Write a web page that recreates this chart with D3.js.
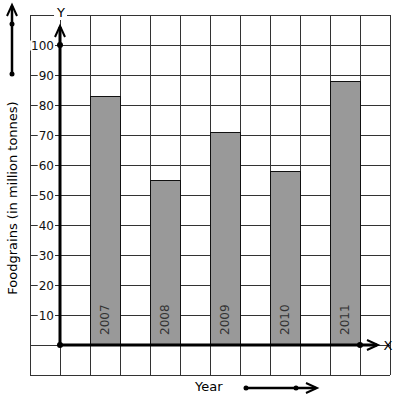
<!DOCTYPE html>
<html>
<head>
<meta charset="utf-8">
<script src="https://cdn.jsdelivr.net/npm/d3@7"></script>
<style>
  body { margin: 0; background: #fff; }
  text { font-family: "DejaVu Sans", sans-serif; }
</style>
</head>
<body>
<div id="cnv"></div>
<script>
var years = ["2007", "2008", "2009", "2010", "2011"];
var foodgrains = [83, 55, 71, 58, 88];
var yTicks = [10, 20, 30, 40, 50, 60, 70, 80, 90, 100];

var width = 397, height = 401;

var svg = d3.select("#cnv").append("svg")
  .attr("width", width)
  .attr("height", height);

// grid units: x from -1 to 11, y from -10 to 110
var xScale = d3.scaleLinear().domain([-1, 11]).range([30, 390]);
var yScale = d3.scaleLinear().domain([-10, 110]).range([375, 15]);

var grid = svg.append("g").attr("class", "grid");
d3.range(-1, 12).forEach(function(i) {
  grid.append("line")
    .attr("x1", xScale(i)).attr("x2", xScale(i))
    .attr("y1", yScale(-10)).attr("y2", yScale(110))
    .attr("stroke", "#333").attr("stroke-width", 1)
    .attr("shape-rendering", "crispEdges");
});
d3.range(-10, 111, 10).forEach(function(v) {
  grid.append("line")
    .attr("x1", xScale(-1)).attr("x2", xScale(11))
    .attr("y1", yScale(v)).attr("y2", yScale(v))
    .attr("stroke", "#333").attr("stroke-width", 1)
    .attr("shape-rendering", "crispEdges");
});

// bars
svg.selectAll("rect.bar")
  .data(foodgrains)
  .enter().append("rect")
  .attr("class", "bar")
  .attr("x", function(d, i) { return xScale(i * 2 + 1); })
  .attr("width", function(d, i) { return xScale(i * 2 + 2) - xScale(i * 2 + 1); })
  .attr("y", function(d) { return yScale(d); })
  .attr("height", function(d) { return yScale(0) - yScale(d); })
  .attr("fill", "#999")
  .attr("stroke", "#111")
  .attr("stroke-width", 1)
  .attr("shape-rendering", "crispEdges");

// year labels inside bars
svg.selectAll("text.year")
  .data(years)
  .enter().append("text")
  .attr("class", "year")
  .attr("transform", function(d, i) {
    return "translate(" + (xScale(i * 2 + 1.5) + 4) + "," + (yScale(0) - 10) + ") rotate(-90)";
  })
  .attr("font-size", "12px")
  .attr("fill", "#333")
  .text(function(d) { return d; });

// y tick labels with white background
var tickG = svg.append("g");
yTicks.forEach(function(v) {
  var t = tickG.append("text")
    .attr("x", 54)
    .attr("y", yScale(v) + 4.5)
    .attr("text-anchor", "end")
    .attr("font-size", "12px")
    .attr("fill", "#111")
    .text(v);
  var bb = t.node().getBBox();
  tickG.insert("rect", "text")
    .attr("x", bb.x - 1).attr("y", bb.y + 2)
    .attr("width", bb.width + 2).attr("height", bb.height - 4)
    .attr("fill", "#fff");
});

function arrowHead(g, x, y, dir) {
  // open chevron pointing in dir ("up" or "right")
  var p = dir == "up"
    ? [[x - 5, y + 11], [x, y], [x + 5, y + 11]]
    : [[x - 11, y - 5], [x, y], [x - 11, y + 5]];
  g.append("path")
    .attr("d", d3.line()(p))
    .attr("fill", "none")
    .attr("stroke", "#000")
    .attr("stroke-width", 2);
}

var axes = svg.append("g");
// y axis
axes.append("line")
  .attr("x1", xScale(0)).attr("x2", xScale(0))
  .attr("y1", yScale(0)).attr("y2", 27)
  .attr("stroke", "#000").attr("stroke-width", 3);
arrowHead(axes, xScale(0), 26, "up");
// x axis
axes.append("line")
  .attr("x1", xScale(0)).attr("x2", 377)
  .attr("y1", yScale(0)).attr("y2", yScale(0))
  .attr("stroke", "#000").attr("stroke-width", 3);
arrowHead(axes, 378, yScale(0), "right");
[[xScale(0), yScale(0)], [xScale(0), yScale(100)], [xScale(10), yScale(0)]].forEach(function(p) {
  axes.append("circle").attr("cx", p[0]).attr("cy", p[1]).attr("r", 3).attr("fill", "#000");
});

// axis letters
var yl = svg.append("text")
  .attr("x", xScale(0) + 1).attr("y", 17)
  .attr("text-anchor", "middle")
  .attr("font-size", "13px")
  .text("Y");
var ybb = yl.node().getBBox();
svg.insert("rect", "text")
  .attr("x", ybb.x - 2).attr("y", ybb.y).attr("width", ybb.width + 4).attr("height", ybb.height)
  .attr("fill", "#fff");
svg.append("text")
  .attr("x", 388).attr("y", yScale(0) + 5)
  .attr("text-anchor", "middle")
  .attr("font-size", "13px")
  .text("X");

// left side title with arrow
svg.append("text")
  .attr("text-anchor", "middle")
  .attr("transform", "translate(17,198) rotate(-90)")
  .attr("font-size", "13px")
  .text("Foodgrains (in million tonnes)");
svg.append("line")
  .attr("x1", 12).attr("x2", 12).attr("y1", 74).attr("y2", 6)
  .attr("stroke", "#000").attr("stroke-width", 2.5);
arrowHead(svg, 12, 5, "up");
[24, 74].forEach(function(y) {
  svg.append("circle").attr("cx", 12).attr("cy", y).attr("r", 2.5).attr("fill", "#000");
});

// bottom title with arrow
svg.append("text")
  .attr("x", 195).attr("y", 391)
  .attr("font-size", "13px")
  .text("Year");
svg.append("line")
  .attr("x1", 246).attr("x2", 316).attr("y1", 388).attr("y2", 388)
  .attr("stroke", "#000").attr("stroke-width", 2.5);
arrowHead(svg, 317, 388, "right");
[246, 296].forEach(function(x) {
  svg.append("circle").attr("cx", x).attr("cy", 388).attr("r", 2.5).attr("fill", "#000");
});
</script>
</body>
</html>
